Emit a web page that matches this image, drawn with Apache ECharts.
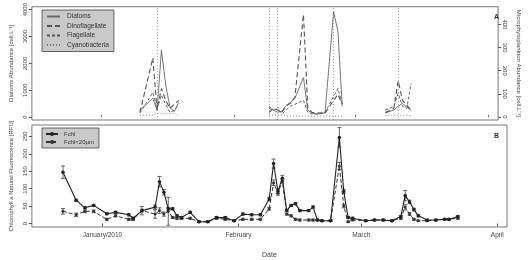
<!DOCTYPE html>
<html><head><meta charset="utf-8">
<script src="https://cdn.jsdelivr.net/npm/echarts@6/dist/echarts.min.js"></script>
<style>html,body{margin:0;padding:0;background:#fff}#c{width:530px;height:260px}</style>
</head><body><div id="c"></div>
<script>
// ---- Panel A: phytoplankton abundance (null = gap between sampling campaigns)
const phytoDates = ['2010-01-10','2010-01-13','2010-01-14','2010-01-15','2010-01-16','2010-01-17','2010-01-18','2010-01-19','2010-01-30',
  '2010-02-09','2010-02-10','2010-02-11','2010-02-12','2010-02-13','2010-02-14','2010-02-15','2010-02-17','2010-02-18','2010-02-19','2010-02-20','2010-02-22','2010-02-24','2010-02-25','2010-02-26','2010-03-03',
  '2010-03-08','2010-03-10','2010-03-11','2010-03-12','2010-03-13','2010-03-14'];
const diatoms = [250,700,250,2500,1200,350,200,550,null, 330,260,180,220,440,550,700,1470,260,150,110,150,3930,3190,400,null, 150,260,400,510,370,260];
const dinoflagellate = [20,255,30,123,72,38,55,72,null, 20,38,30,20,47,60,85,443,38,20,17,17,72,98,55,null, 20,38,157,72,51,30];
const flagellate = [17,106,38,94,55,20,30,51,null, 47,30,43,13,30,47,55,72,20,13,13,20,89,123,60,null, 30,47,102,47,38,145];
const cyanobacteria = [8,8,15,15,15,15,15,8,null, 8,8,8,8,4,4,4,4,4,4,4,4,4,4,4,null, 8,8,8,8,8,8];
const eventDates = ['2010-01-14','2010-02-09','2010-02-11','2010-02-24','2010-03-11'];

// ---- Panel B: chlorophyll a natural fluorescence
const chlDates = ['2009-12-23','2009-12-26','2009-12-28','2009-12-30','2010-01-02','2010-01-04','2010-01-07','2010-01-08','2010-01-10','2010-01-13','2010-01-14','2010-01-15','2010-01-16','2010-01-17','2010-01-18','2010-01-19',
  '2010-01-21','2010-01-23','2010-01-25','2010-01-27','2010-01-29','2010-01-31',
  '2010-02-02','2010-02-04','2010-02-06','2010-02-08','2010-02-09','2010-02-10','2010-02-11','2010-02-12','2010-02-13','2010-02-14','2010-02-15','2010-02-17','2010-02-18','2010-02-19','2010-02-20','2010-02-22','2010-02-24','2010-02-25','2010-02-26','2010-02-27',
  '2010-03-02','2010-03-04','2010-03-06','2010-03-08','2010-03-10','2010-03-11','2010-03-12','2010-03-13','2010-03-14','2010-03-16','2010-03-18','2010-03-20','2010-03-21','2010-03-23'];
const fchl = [147,67,45,52,28,32,25,15,37,47,120,90,42,42,22,17, 32,5,5,17,17,8, 27,25,25,70,172,92,130,37,52,57,37,37,47,10,8,8,247,92,17,15, 8,10,10,8,20,80,62,40,22,10,10,12,12,20];
const fchlErr = [18,3,3,3,3,3,3,3,4,6,15,8,4,3,3,3, 3,2,2,3,3,2, 3,3,3,5,13,6,8,3,3,3,3,3,3,2,2,2,28,6,3,3, 2,2,2,2,3,15,5,4,3,2,2,2,2,3];
const fchl20 = [35,25,35,35,12,22,12,12,37,27,37,27,35,17,15,15, 15,5,5,15,12,8, 12,12,12,42,117,87,122,27,22,12,10,10,10,10,8,8,165,50,5,10, 8,10,10,8,15,47,27,12,8,8,10,12,12,15];
const fchl20Err = [8,5,4,4,3,3,3,3,12,12,8,6,40,3,3,3, 3,2,2,3,3,2, 3,3,3,4,8,6,6,3,3,3,3,3,3,2,2,2,10,5,2,2, 2,2,2,2,3,8,4,3,2,2,2,2,2,3];

const monthTicks = ['2010-01-01','2010-02-01','2010-03-01','2010-04-01'];
const monthLabels = ['January/2010','February','March','April'];
const diatomTicks = [0,1000,2000,3000,4000];
const microTicks = [0,100,200,300,400];
const chlTicks = [0,50,100,150,200,250];

function t(s){const p=s.split('-').map(Number);return new Date(p[0],p[1]-1,p[2]).getTime();}
const xMin = new Date(2009,11,15,22).getTime();
const xMax = new Date(2010,3,3,5).getTime();
const tickVals = monthTicks.map(t);
const FONT = 'Liberation Sans';
const TXT = '#444';
const pair = (dates, vals) => dates.map((d,i)=>[t(d), vals[i]]);

function errBar(params, api){
  const x = api.value(0), v = api.value(1), e = api.value(2);
  const top = api.coord([x, v+e]), bot = api.coord([x, v-e]);
  const w = 2;
  const st = {stroke:'#444', lineWidth:0.8};
  return {type:'group', children:[
    {type:'line', shape:{x1:top[0],y1:top[1],x2:bot[0],y2:bot[1]}, style:st},
    {type:'line', shape:{x1:top[0]-w,y1:top[1],x2:top[0]+w,y2:top[1]}, style:st},
    {type:'line', shape:{x1:bot[0]-w,y1:bot[1],x2:bot[0]+w,y2:bot[1]}, style:st}
  ]};
}

const xBase = {type:'value', min:xMin, max:xMax, splitLine:{show:false},
  axisLine:{show:false}};
const plain = v => String(v);

const chart = echarts.init(document.getElementById('c'), null, {renderer:'canvas'});
chart.setOption({
  animation:false,
  textStyle:{fontFamily:FONT},
  grid:[
    {left:23, right:23, top:5, height:115, show:true, borderColor:'#555', borderWidth:0.8, backgroundColor:'#fff'},
    {left:23, right:23, top:125, height:118, show:true, borderColor:'#555', borderWidth:0.8, backgroundColor:'#fff'}
  ],
  xAxis:[
    Object.assign({}, xBase, {gridIndex:0,
      axisTick:{show:true, inside:true, length:2, customValues:tickVals, lineStyle:{color:'#666'}},
      axisLabel:{show:false, customValues:tickVals}}),
    Object.assign({}, xBase, {gridIndex:1,
      name:'Date', nameLocation:'middle', nameGap:25, nameTextStyle:{fontSize:7, color:TXT},
      axisTick:{show:true, length:3, customValues:tickVals, lineStyle:{color:'#555'}},
      axisLabel:{customValues:tickVals, fontSize:6.5, color:TXT, margin:5,
        formatter:(v)=>{const i=tickVals.indexOf(v);return i>=0?monthLabels[i]:'';}}})
  ],
  yAxis:[
    {type:'value', gridIndex:0, position:'left', min:-110, max:4110,
      name:'Diatoms Abundance [cell.L\u207B\u00B9]', nameLocation:'middle', nameGap:17,
      nameTextStyle:{fontSize:6, color:TXT},
      axisLine:{show:false}, splitLine:{show:false},
      axisTick:{length:3, customValues:diatomTicks, lineStyle:{color:'#555'}},
      axisLabel:{fontSize:6, color:TXT, rotate:90, margin:4, customValues:diatomTicks, formatter:plain}},
    {type:'value', gridIndex:0, position:'right', min:-12.8, max:476.6,
      name:'Microphytoplankton Abundance [cell.L\u207B\u00B9]', nameLocation:'middle', nameGap:14, nameRotate:-90,
      nameTextStyle:{fontSize:6, color:TXT},
      axisLine:{show:false}, splitLine:{show:false},
      axisTick:{length:3, customValues:microTicks, lineStyle:{color:'#555'}},
      axisLabel:{fontSize:6, color:TXT, rotate:-90, margin:4, customValues:microTicks, formatter:plain}},
    {type:'value', gridIndex:1, position:'left', min:-10, max:282.5,
      name:'Chlorophyll a Natural Fluorescence [RFU]', nameLocation:'middle', nameGap:17,
      nameTextStyle:{fontSize:6, color:TXT},
      axisLine:{show:false}, splitLine:{show:false},
      axisTick:{length:3, customValues:chlTicks, lineStyle:{color:'#555'}},
      axisLabel:{fontSize:6, color:TXT, rotate:90, margin:4, customValues:chlTicks, formatter:plain}}
  ],
  legend:[
    {left:42, top:10, orient:'vertical', itemGap:2.5, itemWidth:13, itemHeight:5,
      backgroundColor:'#c9c9c9', borderColor:'#444', borderWidth:0.8, padding:[3,5,3,4],
      itemStyle:{color:'transparent', borderWidth:0},
      textStyle:{fontSize:6.5, color:'#333', padding:[0,0,0,2]},
      data:['Diatoms','Dinoflagellate','Flagellate','Cyanobacteria']},
    {left:42, top:128, orient:'vertical', itemGap:2, itemWidth:12, itemHeight:5,
      backgroundColor:'#c9c9c9', borderColor:'#444', borderWidth:0.8, padding:[3,5,3,3],
      textStyle:{fontSize:6, color:'#333', padding:[0,0,0,1]},
      data:['Fchl','Fchl<20\u00B5m']}
  ],
  graphic:[
    {type:'text', left:494, top:14, style:{text:'A', font:'bold 7px '+FONT, fill:'#333'}},
    {type:'text', left:494, top:133, style:{text:'B', font:'bold 7px '+FONT, fill:'#333'}}
  ],
  series:[
    {name:'Diatoms', type:'line', xAxisIndex:0, yAxisIndex:0, data:pair(phytoDates, diatoms),
      showSymbol:false, symbol:'none', connectNulls:false,
      lineStyle:{color:'#666', width:0.9, type:'solid'}, itemStyle:{color:'#666'},
      markLine:{silent:true, symbol:'none', label:{show:false},
        lineStyle:{color:'#888', width:0.7, type:[1,2]},
        data:eventDates.map(d=>({xAxis:t(d)}))}},
    {name:'Dinoflagellate', type:'line', xAxisIndex:0, yAxisIndex:1, data:pair(phytoDates, dinoflagellate),
      showSymbol:false, symbol:'none', connectNulls:false,
      lineStyle:{color:'#555', width:1.1, type:[5,3]}, itemStyle:{color:'#555'}},
    {name:'Flagellate', type:'line', xAxisIndex:0, yAxisIndex:1, data:pair(phytoDates, flagellate),
      showSymbol:false, symbol:'none', connectNulls:false,
      lineStyle:{color:'#555', width:0.9, type:[3,2]}, itemStyle:{color:'#555'}},
    {name:'Cyanobacteria', type:'line', xAxisIndex:0, yAxisIndex:1, data:pair(phytoDates, cyanobacteria),
      showSymbol:false, symbol:'none', connectNulls:false,
      lineStyle:{color:'#777', width:0.9, type:[1,2]}, itemStyle:{color:'#777'}},
    {name:'FchlErr', type:'custom', xAxisIndex:1, yAxisIndex:2, renderItem:errBar,
      data:chlDates.map((d,i)=>[t(d), fchl[i], fchlErr[i]]), z:1},
    {name:'Fchl20Err', type:'custom', xAxisIndex:1, yAxisIndex:2, renderItem:errBar,
      data:chlDates.map((d,i)=>[t(d), fchl20[i], fchl20Err[i]]), z:1},
    {name:'Fchl', type:'line', xAxisIndex:1, yAxisIndex:2, data:pair(chlDates, fchl),
      symbol:'circle', symbolSize:3.5, showSymbol:true,
      lineStyle:{color:'#222', width:1.1}, itemStyle:{color:'#222'}, z:3},
    {name:'Fchl<20\u00B5m', type:'line', xAxisIndex:1, yAxisIndex:2, data:pair(chlDates, fchl20),
      symbol:'circle', symbolSize:3, showSymbol:true,
      lineStyle:{color:'#333', width:1, type:[4,2]}, itemStyle:{color:'#333'}, z:2}
  ]
});
</script></body></html>
